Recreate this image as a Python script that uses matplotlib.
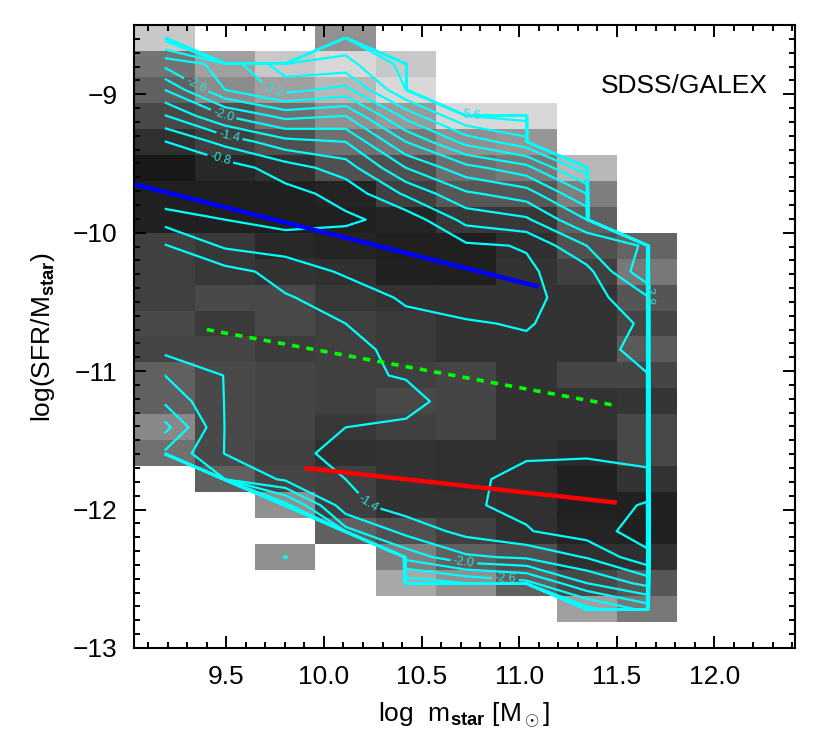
import numpy as np
import matplotlib
matplotlib.use("Agg")
import matplotlib.pyplot as plt
from matplotlib.colors import LinearSegmentedColormap, PowerNorm
from matplotlib.ticker import MultipleLocator, FormatStrFormatter

plt.rcParams['font.family'] = ['Liberation Sans', 'DejaVu Sans']
plt.rcParams['mathtext.fontset'] = 'custom'
plt.rcParams['mathtext.rm'] = 'Liberation Sans'
plt.rcParams['mathtext.it'] = 'Liberation Sans:italic'
plt.rcParams['mathtext.bf'] = 'Liberation Sans:bold'

nan = np.nan

# grey map: log10 of the number of galaxies per (mass, sSFR) bin, relative to the peak
# rows run from the top of the plot (log sSFR = -8.5) downwards, columns from log m = 9.03
grey_density = [
    [-3.99, nan, nan, -3.09, nan, nan, nan, nan, nan],
    [-2.55, -3.35, -3.99, -4.24, -3.99, nan, nan, nan, nan],
    [-2.19, -3.01, -3.35, -3.74, -4.24, nan, nan, nan, nan],
    [-1.67, -1.85, -2.50, -3.08, -3.22, -4.24, -4.24, nan, nan],
    [-1.09, -1.49, -1.85, -2.50, -2.65, -3.08, -3.18, nan, nan],
    [-0.28, -0.86, -1.09, -1.85, -1.85, -2.46, -2.65, -3.74, nan],
    [-0.60, -0.60, -0.60, -0.77, -1.49, -2.02, -2.02, -2.79, nan],
    [-0.67, -0.60, -0.60, -0.60, -0.77, -1.30, -1.30, -2.19, nan],
    [-1.49, -1.30, -0.86, -0.77, -0.60, -0.60, -1.09, -1.85, -2.27],
    [-1.49, -1.30, -1.17, -1.09, -0.67, -0.60, -1.17, -1.49, -2.65],
    [-1.49, -1.70, -1.70, -1.30, -1.17, -1.17, -1.17, -1.17, -1.96],
    [-1.70, -1.34, -1.70, -1.49, -1.34, -1.17, -1.17, -1.17, -1.61],
    [-1.61, -1.60, -1.39, -1.49, -1.34, -1.17, -1.17, -1.17, -2.06],
    [-2.19, -1.70, -1.60, -1.49, -1.49, -1.61, -1.17, -1.61, -1.61],
    [-2.19, -1.70, -1.60, -1.49, -1.67, -1.61, -1.17, -1.17, -1.22],
    [-2.94, -1.70, -1.60, -1.30, -1.49, -1.61, -1.17, -1.17, -1.67],
    [-2.50, -1.70, -1.49, -1.09, -1.17, -1.09, -1.09, -0.92, -1.67],
    [nan, -2.19, -1.60, -1.49, -1.17, -1.09, -1.09, -0.67, -1.17],
    [nan, nan, -3.08, -1.49, -1.17, -1.17, -1.09, -0.67, -0.67],
    [nan, nan, nan, -2.19, -1.85, -1.49, -1.09, -0.77, -0.67],
    [nan, nan, -3.08, nan, -2.79, -2.19, -1.85, -1.09, -1.09],
    [nan, nan, nan, nan, -3.48, -3.08, -2.19, -1.67, -2.02],
    [nan, nan, nan, nan, nan, nan, nan, -3.35, -2.65],
]

# contoured log density on the same bins (values at bin centres)
contour_density = [
    [-3.60, nan, nan, -4.00, nan, nan, nan, nan, nan],
    [-2.70, -3.00, -3.70, -3.70, -4.20, nan, nan, nan, nan],
    [-2.00, -2.90, -3.30, -3.10, -4.10, nan, nan, nan, nan],
    [-1.38, -2.00, -2.40, -2.30, -3.30, -4.10, -4.20, nan, nan],
    [-0.79, -1.20, -1.60, -1.70, -2.60, -3.30, -3.70, nan, nan],
    [-0.60, -0.65, -0.95, -1.25, -2.00, -2.50, -2.80, -3.70, nan],
    [-0.55, -0.60, -0.70, -0.90, -1.45, -1.95, -2.15, -2.90, nan],
    [-0.98, -0.80, -0.70, -0.75, -0.90, -1.50, -1.65, -2.30, nan],
    [-1.42, -1.05, -0.95, -0.95, -0.88, -1.05, -1.12, -1.70, -2.05],
    [-1.50, -1.50, -1.30, -1.05, -0.90, -0.95, -1.05, -1.29, -2.27],
    [-1.55, -1.60, -1.42, -1.30, -1.05, -1.00, -1.02, -1.25, -1.66],
    [-1.60, -1.60, -1.55, -1.40, -1.20, -1.12, -1.08, -1.22, -1.45],
    [-1.62, -1.69, -1.55, -1.45, -1.35, -1.20, -1.15, -1.20, -1.56],
    [-2.00, -1.69, -1.55, -1.45, -1.38, -1.30, -1.20, -1.25, -1.38],
    [-2.25, -1.69, -1.55, -1.45, -1.50, -1.25, -1.20, -1.20, -1.25],
    [-2.70, -1.69, -1.55, -1.40, -1.35, -1.25, -1.20, -1.20, -1.30],
    [-2.25, -1.69, -1.50, -1.30, -1.25, -1.20, -1.13, -1.13, -1.30],
    [nan, -2.00, -1.65, -1.40, -1.20, -1.15, -1.03, -0.98, -0.93],
    [nan, nan, -2.70, -1.50, -1.25, -1.13, -1.04, -0.90, -0.78],
    [nan, nan, nan, -2.10, -1.60, -1.30, -1.12, -0.95, -0.65],
    [nan, nan, -3.10, nan, -2.20, -1.75, -1.65, -1.38, -0.88],
    [nan, nan, nan, nan, -3.10, -2.90, -2.70, -2.00, -1.60],
    [nan, nan, nan, nan, nan, nan, nan, -3.00, -2.50],
]

# fitted relations
blue_x = [9.0, 11.1]
blue_y = [-9.64, -10.39]
green_x = [9.40, 11.50]
green_y = [-10.70, -11.25]
red_x = [9.90, 11.50]
red_y = [-11.70, -11.95]

contour_levels = -0.2 - 0.3 * np.arange(19)

# where the contour labels sit
label_spots = [(9.74, -8.95), (9.49, -9.13), (9.52, -9.27), (9.47, -9.46),
               (9.33, -8.98), (10.23, -11.95), (10.72, -12.35), (10.93, -12.49),
               (11.66, -10.45), (10.75, -9.15)]

# bin grid (one empty column / row padded on the right / bottom)
g = np.pad(np.array(grey_density), ((0, 1), (0, 1)), constant_values=nan)
c = np.pad(np.array(contour_density), ((0, 1), (0, 1)), constant_values=nan)
nrow, ncol = g.shape
dx, dy = 0.3087, 0.1875
x_edges = 9.0304 + dx * np.arange(ncol + 1)
y_edges = -8.5 - dy * np.arange(nrow + 1)
x_cen = 0.5 * (x_edges[:-1] + x_edges[1:])
y_cen = 0.5 * (y_edges[:-1] + y_edges[1:])

fig = plt.figure(figsize=(8.3, 7.55), dpi=100)
ax = fig.add_axes([134 / 830, 1 - 648 / 755, 661 / 830, 623 / 755])

greys = LinearSegmentedColormap.from_list('g', [(20 / 255,) * 3, (220 / 255,) * 3])
ax.pcolormesh(x_edges, y_edges, np.ma.masked_invalid(-g), cmap=greys,
              norm=PowerNorm(gamma=1 / 0.7, vmin=0, vmax=4.3))

# empty bins -> very low density so the outer contours hug the data edge
zc = np.where(np.isnan(c), -99.0, c)
xx, yy, zz = x_cen, y_cen[::-1], zc[::-1]
plain_lev = np.sort(contour_levels[1::2])
label_lev = np.sort(contour_levels[::2])
ax.contour(xx, yy, zz, levels=plain_lev, colors='cyan', linewidths=1.6,
           linestyles='solid', negative_linestyles='solid')
cs = ax.contour(xx, yy, zz, levels=label_lev, colors='cyan', linewidths=1.6,
                linestyles='solid', negative_linestyles='solid')
ax.clabel(cs, inline=True, fontsize=9, fmt='%.1f', colors='#30dede',
          inline_spacing=4, manual=label_spots)

ax.plot(blue_x, blue_y, color='#0000ff', lw=3.2, solid_capstyle='butt')
ax.plot(green_x, green_y, color='#00ff00', lw=2.6, ls=(0, (2.0, 2.0)))
ax.plot(red_x, red_y, color='#ff0000', lw=3.2, solid_capstyle='butt')

ax.set_xlim(9.027, 12.413)
ax.set_ylim(-13, -8.5)
ax.xaxis.set_major_locator(MultipleLocator(0.5))
ax.xaxis.set_minor_locator(MultipleLocator(0.1))
ax.yaxis.set_major_locator(MultipleLocator(1))
ax.yaxis.set_minor_locator(MultipleLocator(0.1))
ax.xaxis.set_major_formatter(FormatStrFormatter('%.1f'))
ax.tick_params(which='both', direction='in', top=True, right=True, width=1.4,
               labelsize=19)
ax.tick_params(which='major', length=8.5)
ax.tick_params(which='minor', length=4.3)
ax.tick_params(axis='x', pad=12)
ax.tick_params(axis='y', pad=12)
for s in ax.spines.values():
    s.set_linewidth(1.5)

ax.set_xlabel(r'log  m$_{\mathbf{star}}$ [M$_\odot$]', fontsize=19, labelpad=9)
ax.set_ylabel(r'log(SFR/M$_{\mathbf{star}}$)', fontsize=19, labelpad=11)
ax.text(0.959, 0.902, 'SDSS/GALEX', transform=ax.transAxes, ha='right',
        va='center', fontsize=19)

fig.savefig('out.png', dpi=100)
